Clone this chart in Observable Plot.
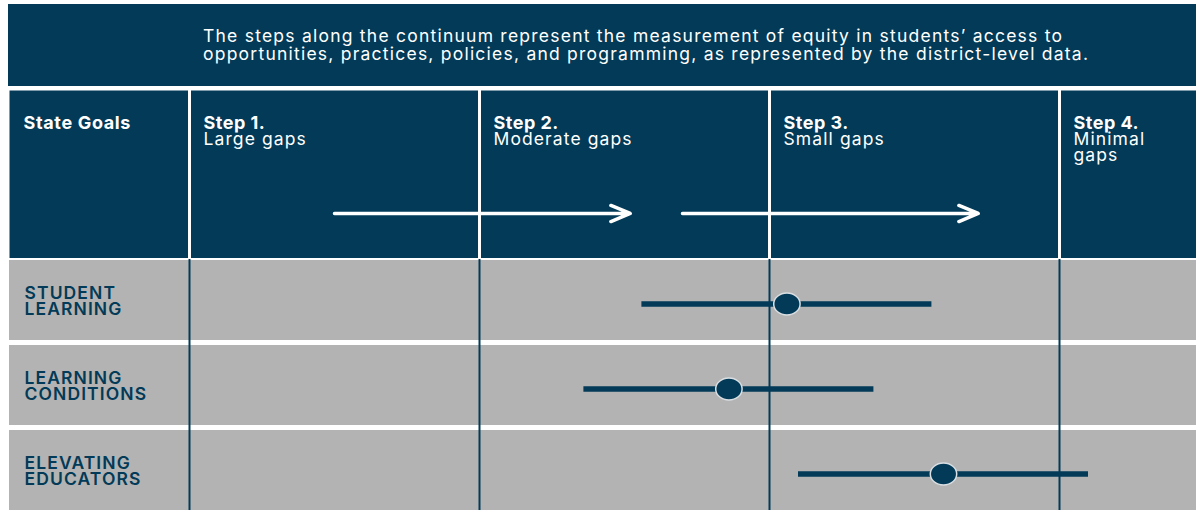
<!DOCTYPE html>
<html><head><meta charset="utf-8">
<script src="https://cdn.jsdelivr.net/npm/d3@7"></script>
<script src="https://cdn.jsdelivr.net/npm/@observablehq/plot@0.6"></script>
<style>
body{margin:0;background:#fff;font-family:Inter,"Noto Sans",sans-serif;}
#banner{margin:4px 0 0 8px;height:82px;background:#023a57;color:#fff;position:relative;}
#banner p{position:absolute;left:195px;top:23px;margin:0;font-size:17.5px;line-height:18px;letter-spacing:1.23px;white-space:nowrap;}
#header{margin:4px 0 0 9px;}
#body{margin:0 0 0 9px;}
svg{display:block}
</style></head><body>
<div id="banner"><p id="intro"></p></div>
<div id="header"></div>
<div id="body"></div>
<script>
const NAVY = "#023a57", GRAY = "#b3b3b3";
const introLines = [
  "The steps along the continuum represent the measurement of equity in students’ access to",
  "opportunities, practices, policies, and programming, as represented by the district-level data."
];
const steps = [1, 2, 3, 4];
const stepTitles = ["Step 1.", "Step 2.", "Step 3.", "Step 4."];
const stepLabels = ["Large gaps", "Moderate gaps", "Small gaps", "Minimal\ngaps"];
const headTitle = "State Goals";
const goals = ["STUDENT LEARNING", "LEARNING CONDITIONS", "ELEVATING EDUCATORS"];
const goalLabels = ["STUDENT\nLEARNING", "LEARNING\nCONDITIONS", "ELEVATING\nEDUCATORS"];
const lows = [2.56, 2.36, 3.10];
const mids = [3.06, 2.86, 3.60];
const highs = [3.56, 3.36, 4.10];
const arrowStarts = [1.50, 2.70];
const arrowEnds = [2.52, 3.72];

const xDomain = [1 - 180 / 290, 4 + 137 / 290];
const W = 1187;
const arrowLevel = 0.268;

document.getElementById("intro").innerHTML = introLines.join("<br>");

const ellipse = {
  draw(ctx, size) {
    const r = Math.sqrt(size / Math.PI), rx = r * 1.2, ry = r, k = 0.5523;
    ctx.moveTo(rx, 0);
    ctx.bezierCurveTo(rx, k * ry, k * rx, ry, 0, ry);
    ctx.bezierCurveTo(-k * rx, ry, -rx, k * ry, -rx, 0);
    ctx.bezierCurveTo(-rx, -k * ry, -k * rx, -ry, 0, -ry);
    ctx.bezierCurveTo(k * rx, -ry, rx, -k * ry, rx, 0);
    ctx.closePath();
  }
};

const stepData = steps.map((s, i) => ({step: s, title: stepTitles[i], label: stepLabels[i]}));
const arrows = arrowStarts.map((a, i) => ({x1: a, x2: arrowEnds[i], y: arrowLevel}));
const rows = goals.map((g, i) => ({goal: g, label: goalLabels[i], low: lows[i], mid: mids[i], high: highs[i]}));

const header = Plot.plot({
  width: W, height: 168,
  margin: 0,
  x: {domain: xDomain, axis: null},
  y: {domain: [0, 1], axis: null},
  style: {fontFamily: "Inter, sans-serif", background: "white"},
  marks: [
    Plot.frame({fill: NAVY, stroke: null}),
    Plot.ruleX(steps, {stroke: "white", strokeWidth: 3}),
    Plot.text([headTitle], {x: xDomain[0], text: d => d, frameAnchor: "top", lineAnchor: "bottom", dx: 14, dy: 38, textAnchor: "start", fill: "white", fontSize: 18, fontWeight: 700}),
    Plot.text(stepData, {x: "step", text: "title", frameAnchor: "top", lineAnchor: "bottom", dx: 14, dy: 38, textAnchor: "start", fill: "white", fontSize: 18, fontWeight: 700}),
    Plot.text(stepData, {x: "step", text: "label", frameAnchor: "top", lineAnchor: "top", dx: 14, dy: 42.5, lineHeight: 0.95, textAnchor: "start", fill: "white", fontSize: 17.5, fontWeight: 400}),
    Plot.arrow(arrows, {x1: "x1", x2: "x2", y1: "y", y2: "y", stroke: "white", strokeWidth: 3.5, headLength: 9, headAngle: 45})
  ]
});
const hText = header.querySelectorAll('g[aria-label="text"]');
hText[0].setAttribute("letter-spacing", "0.65px");
hText[1].setAttribute("letter-spacing", "0.5px");
hText[2].setAttribute("letter-spacing", "1.1px");
document.getElementById("header").append(header);

const body = Plot.plot({
  width: W, height: 254,
  marginTop: 1, marginBottom: 1, marginLeft: 0, marginRight: 0,
  x: {domain: xDomain, axis: null},
  y: {type: "band", domain: goals, paddingInner: 0.054, paddingOuter: 0, axis: null},
  style: {fontFamily: "Inter, sans-serif", background: "white"},
  marks: [
    Plot.barX(rows, {y: "goal", x1: xDomain[0], x2: xDomain[1], fill: GRAY}),
    Plot.ruleX(steps, {stroke: NAVY, strokeWidth: 2}),
    Plot.ruleY(rows, {y: "goal", x1: "low", x2: "high", stroke: NAVY, strokeWidth: 5.5, dy: 3.5}),
    Plot.dot(rows, {y: "goal", x: "mid", r: 11, symbol: ellipse, fill: NAVY, stroke: "#d9dfe3", strokeWidth: 1.5, dy: 3.5}),
    Plot.text(rows, {y: "goal", x: xDomain[0], text: "label", dx: 15, dy: 1, textAnchor: "start", lineAnchor: "middle", lineHeight: 0.95, fill: NAVY, fontSize: 17.5, fontWeight: 600})
  ]
});
body.querySelectorAll('g[aria-label="text"]').forEach(g => g.setAttribute("letter-spacing", "1.1px"));
document.getElementById("body").append(body);
</script>
</body></html>
